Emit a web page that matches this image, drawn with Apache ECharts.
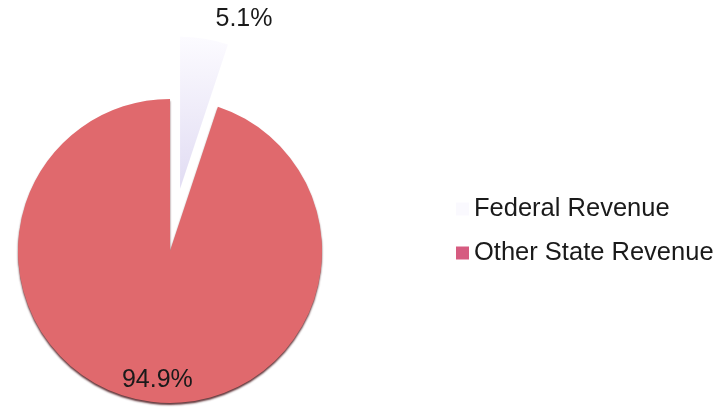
<!DOCTYPE html>
<html>
<head>
<meta charset="utf-8">
<script src="https://cdn.jsdelivr.net/npm/echarts@6/dist/echarts.min.js"></script>
<style>
  html, body { margin: 0; padding: 0; background: #ffffff; }
  #chart { width: 718px; height: 420px; }
</style>
</head>
<body>
<div id="chart"></div>
<script>
// Revenue share by source (percent)
const categories = ['Federal Revenue', 'Other State Revenue'];
const shares = [5.1, 94.9];

const sliceColors = [
  new echarts.graphic.LinearGradient(0, 0, 0, 1, [
    { offset: 0, color: '#FCFBFF' },
    { offset: 1, color: '#E1DCF3' }
  ]),
  '#E0696D'
];
const legendColors = ['#FAF9FE', '#D65B80'];

const chart = echarts.init(document.getElementById('chart'), null, { renderer: 'canvas' });

const pieData = categories.map((name, i) => {
  const item = {
    name: name,
    value: shares[i],
    itemStyle: { color: sliceColors[i] }
  };
  if (i === 0) {
    // small slice pulled out, label above it
    item.selected = true;
    item.label = { position: 'outside' };
    item.labelLine = { show: false, length: 20, length2: 3 };
  } else {
    // large slice: label sits inside, pushed down toward the lower rim
    item.itemStyle.shadowColor = 'rgba(70, 20, 25, 0.85)';
    item.itemStyle.shadowOffsetY = 2;
    item.itemStyle.shadowBlur = 2;
    item.label = {
      position: 'inside',
      lineHeight: 34,
      formatter: p => '\n\n\n' + p.value + '%'
    };
  }
  return item;
});

chart.setOption({
  backgroundColor: '#ffffff',
  animation: false,
  legend: {
    orient: 'vertical',
    left: 456,
    top: 196,
    padding: 0,
    itemWidth: 13,
    itemHeight: 13,
    itemGap: 18,
    icon: 'rect',
    selectedMode: false,
    textStyle: {
      fontFamily: 'Liberation Sans, Arial, sans-serif',
      fontSize: 25.5,
      lineHeight: 26,
      color: '#1a1a1a'
    },
    data: categories.map((name, i) => ({
      name: name,
      itemStyle: { color: legendColors[i] }
    }))
  },
  series: [{
    type: 'pie',
    center: [170, 251],
    radius: [0, 152],
    startAngle: 90,
    clockwise: true,
    selectedMode: 'single',
    selectedOffset: 63,
    avoidLabelOverlap: false,
    emphasis: { disabled: true },
    label: {
      show: true,
      formatter: '{c}%',
      fontFamily: 'Liberation Sans, Arial, sans-serif',
      fontSize: 25,
      color: '#1a1a1a'
    },
    itemStyle: { borderWidth: 0 },
    data: pieData
  }]
});
</script>
</body>
</html>
